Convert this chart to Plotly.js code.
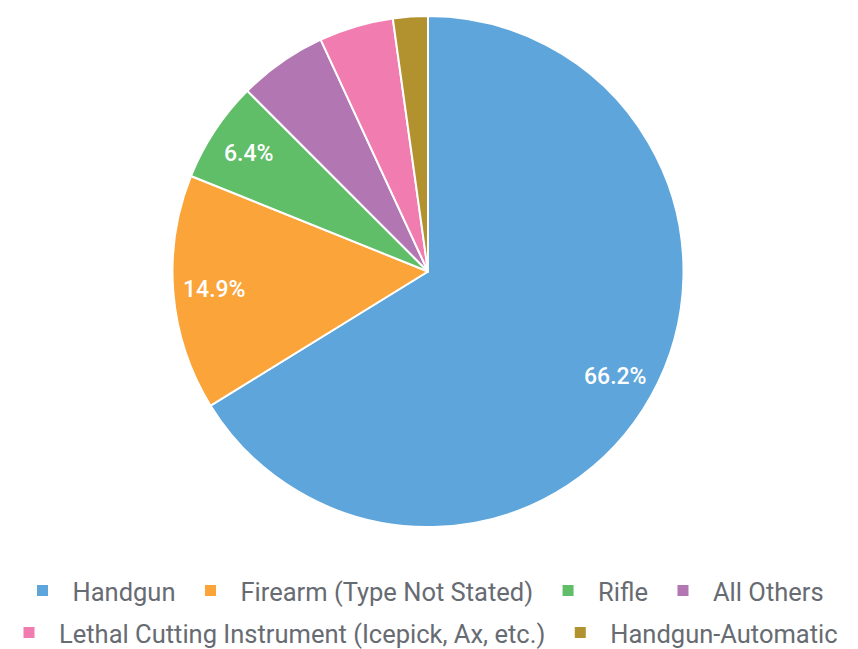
<!DOCTYPE html>
<html>
<head>
<meta charset="utf-8">
<script src="https://cdn.plot.ly/plotly-3.0.1.min.js"></script>
<style>html,body{margin:0;padding:0;background:#fff;}#chart{width:858px;height:649px;}</style>
</head>
<body>
<div id="chart"></div>
<script>
const categories = ["Handgun", "Firearm (Type Not Stated)", "Rifle", "All Others", "Lethal Cutting Instrument (Icepick, Ax, etc.)", "Handgun-Automatic"];
const values = [66.2, 14.9, 6.4, 5.6, 4.7, 2.2];
const colors = ["#5DA5DA", "#FAA43A", "#60BD68", "#B276B2", "#F17CB0", "#B2912F"];
const labelShown = [true, true, true, false, false, false];
const legendRow = ["legend", "legend", "legend", "legend", "legend2", "legend2"];

const W = 858, H = 649;
const M = {l: 0, r: 2, t: 16, b: 122};
const plotW = W - M.l - M.r, plotH = H - M.t - M.b;
const R = Math.min(plotW, plotH) / 2;
const labelRadius = 0.84;

const pie = {
  type: "pie",
  labels: categories,
  values: values,
  sort: false,
  direction: "clockwise",
  rotation: 0,
  marker: {colors: colors, line: {color: "#ffffff", width: 2}},
  textinfo: "none",
  showlegend: false,
  hoverinfo: "label+percent"
};

// legend entries (flowing rows, as in the reference)
const legendTraces = categories.map((c, i) => ({
  type: "scatter", mode: "markers", x: [null], y: [null],
  name: c, legend: legendRow[i], showlegend: true,
  marker: {symbol: "square", size: 11, color: colors[i], line: {width: 0}}
}));

// percentage labels for the three largest slices
const total = values.reduce((a, b) => a + b, 0);
const annotations = [];
let cum = 0;
values.forEach((v, i) => {
  const mid = (cum + v / 2) / total * 2 * Math.PI;
  cum += v;
  if (!labelShown[i]) return;
  annotations.push({
    xref: "paper", yref: "paper",
    x: 0.5 + labelRadius * R * Math.sin(mid) / plotW,
    y: 0.5 + labelRadius * R * Math.cos(mid) / plotH,
    text: (v / total * 100).toFixed(1) + "%",
    showarrow: false, xanchor: "center", yanchor: "middle",
    font: {family: "Roboto", size: 23, color: "#ffffff", weight: 500}
  });
});

const legendFont = {family: "Roboto", size: 25.5, color: "#676b72"};
const legendX = 0.5 - 8 / W;
const layout = {
  width: W, height: H,
  margin: Object.assign({autoexpand: false}, M),
  paper_bgcolor: "#ffffff", plot_bgcolor: "rgba(0,0,0,0)",
  xaxis: {visible: false}, yaxis: {visible: false},
  showlegend: true,
  legend: {orientation: "h", x: legendX, xanchor: "center", xref: "container",
           y: 1 - 591 / H, yanchor: "middle", yref: "container",
           font: legendFont, itemwidth: 50, bgcolor: "rgba(0,0,0,0)"},
  legend2: {orientation: "h", x: legendX, xanchor: "center", xref: "container",
            y: 1 - 633 / H, yanchor: "middle", yref: "container",
            font: legendFont, itemwidth: 50, bgcolor: "rgba(0,0,0,0)"},
  annotations: annotations,
  font: {family: "Roboto"}
};

Plotly.newPlot("chart", [pie].concat(legendTraces), layout, {displayModeBar: false, staticPlot: true});
</script>
</body>
</html>
